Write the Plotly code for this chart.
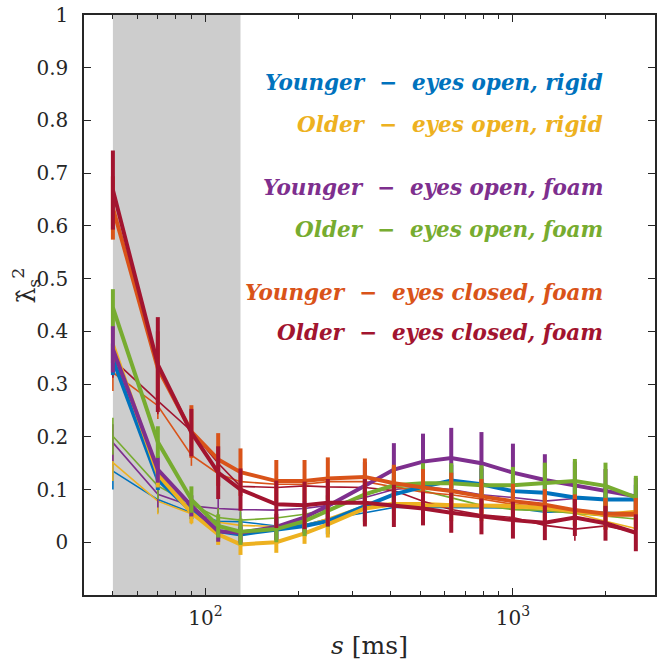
import plotly.graph_objects as go

# ---------------- data ----------------
s_ms = [50, 70, 90, 110, 130, 170, 210, 250, 330, 410, 510, 630, 790, 1000, 1270, 1590, 2000, 2510]

labels = ["Younger − eyes open, rigid", "Older − eyes open, rigid",
          "Younger − eyes open, foam", "Older − eyes open, foam",
          "Younger − eyes closed, foam", "Older − eyes closed, foam"]
colors = ["#0072BD", "#EDB120", "#7E2F8E", "#77AC30", "#D95319", "#A2142F"]

# thick curves
young_open_rigid = [0.347, 0.119, 0.059, 0.021, 0.015, 0.025, 0.031, 0.040, 0.069, 0.091, 0.105, 0.117, 0.110, 0.097, 0.094, 0.085, 0.081, 0.081]
old_open_rigid   = [0.375, 0.129, 0.056, 0.015, -0.004, 0.000, 0.017, 0.034, 0.064, 0.072, 0.070, 0.070, 0.070, 0.069, 0.065, 0.058, 0.052, 0.058]
young_open_foam  = [0.366, 0.138, 0.069, 0.021, 0.018, 0.029, 0.047, 0.069, 0.107, 0.138, 0.153, 0.160, 0.150, 0.132, 0.118, 0.108, 0.099, 0.087]
old_open_foam    = [0.445, 0.190, 0.081, 0.031, 0.020, 0.025, 0.040, 0.059, 0.091, 0.108, 0.112, 0.112, 0.108, 0.108, 0.113, 0.116, 0.107, 0.085]
young_closed_foam = [0.634, 0.330, 0.210, 0.157, 0.133, 0.116, 0.116, 0.121, 0.124, 0.112, 0.104, 0.097, 0.087, 0.078, 0.071, 0.061, 0.054, 0.054]
old_closed_foam   = [0.668, 0.337, 0.208, 0.132, 0.100, 0.072, 0.070, 0.075, 0.075, 0.069, 0.064, 0.056, 0.049, 0.042, 0.037, 0.047, 0.036, 0.018]

err_young_open_rigid = [0.030, 0.020, 0.015, 0.015, 0.015, 0.020, 0.020, 0.025, 0.030, 0.030, 0.030, 0.030, 0.030, 0.030, 0.028, 0.028, 0.028, 0.028]
err_old_open_rigid   = [0.035, 0.025, 0.020, 0.020, 0.020, 0.020, 0.020, 0.025, 0.030, 0.030, 0.030, 0.030, 0.030, 0.030, 0.028, 0.028, 0.028, 0.028]
err_young_open_foam  = [0.044, 0.025, 0.020, 0.020, 0.020, 0.025, 0.030, 0.035, 0.045, 0.050, 0.053, 0.057, 0.059, 0.055, 0.049, 0.045, 0.040, 0.035]
err_old_open_foam    = [0.035, 0.030, 0.025, 0.022, 0.025, 0.025, 0.028, 0.030, 0.032, 0.035, 0.038, 0.038, 0.038, 0.035, 0.038, 0.042, 0.044, 0.041]
err_young_closed_foam = [0.060, 0.070, 0.050, 0.050, 0.045, 0.040, 0.040, 0.040, 0.035, 0.035, 0.035, 0.035, 0.033, 0.033, 0.030, 0.030, 0.030, 0.030]
err_old_closed_foam   = [0.075, 0.090, 0.045, 0.050, 0.040, 0.045, 0.045, 0.045, 0.045, 0.040, 0.032, 0.038, 0.034, 0.035, 0.033, 0.035, 0.033, 0.035]

# thin curves
thin_young_open_rigid = [0.135, 0.081, 0.056, 0.040, 0.039, 0.031, 0.033, 0.044, 0.056, 0.066, 0.066, 0.066, 0.066, 0.065, 0.057, 0.058, 0.057, 0.055]
thin_old_open_rigid   = [0.151, 0.078, 0.054, 0.038, 0.032, 0.030, 0.032, 0.045, 0.070, 0.075, 0.075, 0.072, 0.070, 0.065, 0.060, 0.055, 0.040, 0.026]
thin_young_open_foam  = [0.189, 0.091, 0.069, 0.064, 0.062, 0.061, 0.064, 0.070, 0.085, 0.100, 0.105, 0.100, 0.090, 0.085, 0.078, 0.083, 0.081, 0.082]
thin_old_open_foam    = [0.201, 0.107, 0.072, 0.047, 0.042, 0.046, 0.053, 0.062, 0.090, 0.105, 0.098, 0.085, 0.070, 0.062, 0.060, 0.055, 0.050, 0.044]
thin_young_closed_foam = [0.322, 0.259, 0.165, 0.130, 0.115, 0.110, 0.110, 0.115, 0.115, 0.105, 0.095, 0.090, 0.082, 0.072, 0.066, 0.058, 0.050, 0.050]
thin_old_closed_foam   = [0.347, 0.268, 0.211, 0.150, 0.106, 0.104, 0.107, 0.105, 0.104, 0.098, 0.078, 0.062, 0.052, 0.047, 0.032, 0.025, 0.031, 0.019]

err_thin = [0.035, 0.025, 0.020, 0.018, 0.018, 0.018, 0.018, 0.020, 0.022, 0.022, 0.022, 0.022, 0.022, 0.022, 0.022, 0.022, 0.022, 0.022]

shade_x = [50, 130]
y_range = [-0.1, 1.0]
y_ticks = [0, 0.1, 0.2, 0.3, 0.4, 0.5, 0.6, 0.7, 0.8, 0.9, 1]
y_ticktext = ["0", "0.1", "0.2", "0.3", "0.4", "0.5", "0.6", "0.7", "0.8", "0.9", "1"]
x_ticks = [100, 1000]
x_ticktext = ["10<sup>2</sup>", "10<sup>3</sup>"]
x_minor = [50, 60, 70, 80, 90, 200, 300, 400, 500, 600, 700, 800, 900, 2000]

thick = [young_open_rigid, old_open_rigid, young_open_foam, old_open_foam, young_closed_foam, old_closed_foam]
thick_err = [err_young_open_rigid, err_old_open_rigid, err_young_open_foam, err_old_open_foam, err_young_closed_foam, err_old_closed_foam]
thin = [thin_young_open_rigid, thin_old_open_rigid, thin_young_open_foam, thin_old_open_foam, thin_young_closed_foam, thin_old_closed_foam]

FONT = "DejaVu Serif"
INK = "#262626"

fig = go.Figure()

# shaded window
fig.add_trace(go.Scatter(x=[shade_x[0], shade_x[1], shade_x[1], shade_x[0]],
                         y=[y_range[0], y_range[0], y_range[1], y_range[1]],
                         fill="toself", fillcolor="#CDCDCD", mode="none",
                         hoverinfo="skip", showlegend=False))

for vals, col, lab in zip(thin, colors, labels):
    fig.add_trace(go.Scatter(x=s_ms, y=vals, mode="lines", name=lab + " (thin)",
                             line=dict(color=col, width=1.6),
                             error_y=dict(type="data", array=err_thin, color=col,
                                          thickness=1.6, width=0),
                             showlegend=False))

for vals, err, col, lab in zip(thick, thick_err, colors, labels):
    fig.add_trace(go.Scatter(x=s_ms, y=vals, mode="lines", name=lab,
                             line=dict(color=col, width=4),
                             error_y=dict(type="data", array=err, color=col,
                                          thickness=4, width=0),
                             showlegend=False))

# coloured labels
label_y = [0.883, 0.812, 0.702, 0.631, 0.521, 0.452]
for lab, col, yy in zip(labels, colors, label_y):
    fig.add_annotation(x=0.913, y=yy, xref="paper", yref="paper",
                       text="<b><i>" + lab.replace(" − ", "  −  ") + "</i></b>",
                       showarrow=False, xanchor="right", yanchor="middle",
                       font=dict(family=FONT, size=21.5, color=col))

# y-axis label
fig.add_annotation(x=-0.101, y=0.534, xref="paper", yref="paper",
                   text="λ\u0302<sub>s</sub><sup>2</sup>", textangle=-90,
                   showarrow=False, xanchor="center", yanchor="middle",
                   font=dict(family=FONT, size=25, color=INK))

fig.update_xaxes(type="log", range=[1.605, 3.462],
                 tickvals=x_ticks, ticktext=x_ticktext,
                 ticks="inside", ticklen=7, tickwidth=1, tickcolor=INK,
                 minor=dict(tickvals=x_minor, ticks="inside", ticklen=4, tickwidth=1, tickcolor=INK),
                 showline=True, linecolor=INK, linewidth=1.5, mirror="allticks",
                 showgrid=False, zeroline=False, ticklabelstandoff=4,
                 tickfont=dict(family=FONT, size=20, color=INK),
                 title=dict(text="<i>s</i> [ms]", font=dict(family=FONT, size=25, color=INK), standoff=8))
fig.update_yaxes(range=y_range, tickvals=y_ticks, ticktext=y_ticktext,
                 ticks="inside", ticklen=7, tickwidth=1, tickcolor=INK,
                 showline=True, linecolor=INK, linewidth=1.5, mirror="allticks",
                 showgrid=False, zeroline=False, ticklabelstandoff=10,
                 tickfont=dict(family=FONT, size=20, color=INK))

fig.update_layout(width=658, height=662, margin=dict(l=84, r=1, t=15, b=67),
                  plot_bgcolor="white", paper_bgcolor="white", showlegend=False,
                  font=dict(family=FONT))

fig.write_html("out.html")
